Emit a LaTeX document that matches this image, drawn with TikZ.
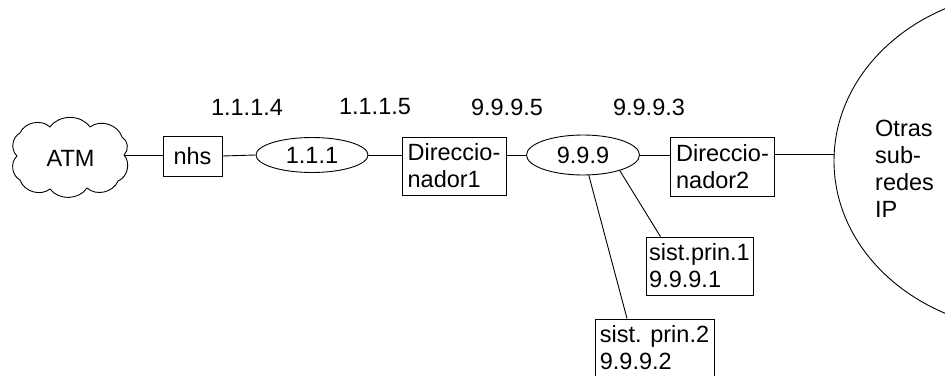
\documentclass[tikz,border=0pt]{standalone}
\usepackage{fontspec}
\setmainfont{Liberation Sans}
\usetikzlibrary{shapes.geometric}
\begin{document}
\begin{tikzpicture}[x=1pt,y=-1pt,
  every node/.style={font=\fontsize{23.5}{27}\selectfont, inner sep=0pt},
  link/.style={draw, line width=0.9pt},
  puff/.style={bend left=55},
  boxnode/.style={draw, line width=0.9pt, rectangle, align=left},
  ovalnode/.style={draw, line width=0.9pt, ellipse},
  addr/.style={}]
\useasboundingbox (0,0) rectangle (945,375);
\begin{scope}
\clip (0,0) rectangle (945,375);
% cloud
\draw[line width=0.9pt, line join=round]
  (20,133) to[puff] (50,127) to[puff] (90,127) to[puff] (122,137)
  to[puff] (124,155) to[puff] (118,181) to[puff] (87,188)
  to[puff] (50,189) to[puff] (20,180) to[puff] (17,156) to[puff] cycle;
\node (atm) at (70.5,158) {ATM};
\coordinate (atmR) at (124,155);
\node[boxnode, minimum width=59, minimum height=40] (nhs) at (192.5,156) {nhs};
\node[ovalnode, minimum width=112, minimum height=35] (n111) at (312,155) {1.1.1};
\node[boxnode, minimum width=104, minimum height=58] (d1) at (454,166) {Direccio-\\nador1};
\node[ovalnode, minimum width=113, minimum height=40] (e999) at (583,155) {9.9.9};
\node[boxnode, minimum width=104, minimum height=59] (d2) at (722.5,166.5) {Direccio-\\nador2};
\node[ovalnode, minimum width=400, minimum height=340] (big) at (1034,161) {};
\node[align=left, anchor=west] (otras) at (875,168.5) {Otras\\sub-\\redes\\IP};
\node[boxnode, minimum width=107, minimum height=58] (sp1) at (699.5,266) {sist.prin.1\\9.9.9.1};
\node[boxnode, minimum width=119, minimum height=58] (sp2) at (654.5,348) {sist. prin.2\\9.9.9.2};
\node[addr] (a1) at (247,107) {1.1.1.4};
\node[addr] (a2) at (375,107) {1.1.1.5};
\node[addr] (a3) at (507,107) {9.9.9.5};
\node[addr] (a4) at (649,107) {9.9.9.3};
\draw[link] (atmR) -- (atmR -| nhs.west);
\draw[link] (nhs.east) -- (n111.west);
\draw[link] (n111.east) -- (n111.east -| d1.west);
\draw[link] (e999.west -| d1.east) -- (e999.west);
\draw[link] (e999.east) -- (e999.east -| d2.west);
\draw[link] (big.178 -| d2.east) -- (big.178);
\draw[link] (e999.-74) -- (sp2.133.5);
\draw[link] (e999.-23) -- (sp1.143.7);
\end{scope}
\end{tikzpicture}
\end{document}
